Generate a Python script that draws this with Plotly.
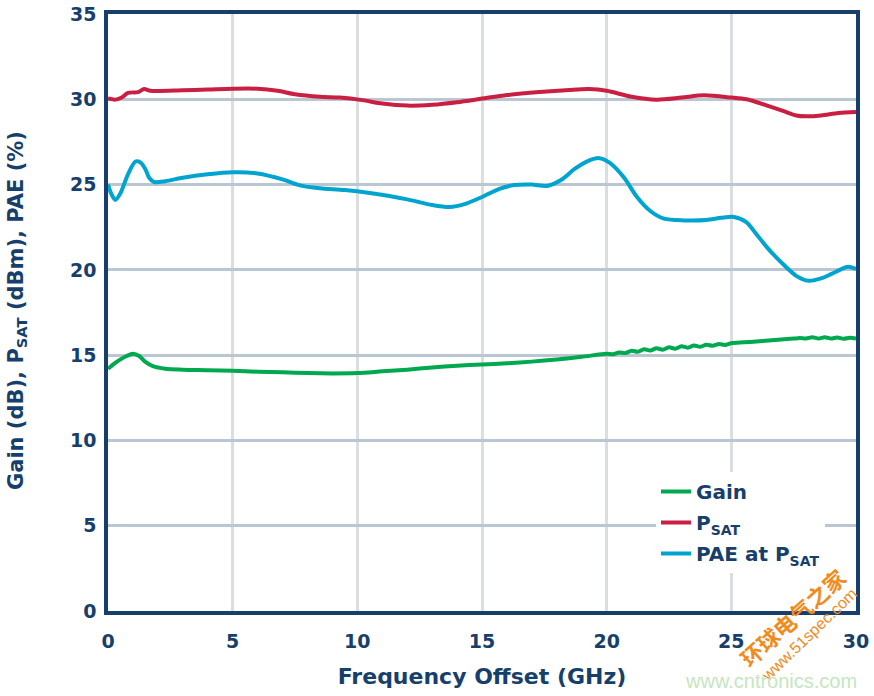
import plotly.graph_objects as go

# ---- data ----
gain_x = [0, 0.25, 0.5, 0.75, 1.0, 1.25, 1.5, 1.8, 2.3, 3, 4, 5, 6, 7, 8, 9, 10, 11, 12, 13, 14, 15, 16, 17, 18, 19, 20,
          20.25, 20.5, 20.75, 21.0, 21.25, 21.5, 21.75, 22.0, 22.25, 22.5, 22.75, 23.0, 23.25, 23.5, 23.75, 24.0,
          24.25, 24.5, 24.75, 25.0, 25.5, 26.0, 26.5, 27.0, 27.5, 27.75, 28.0, 28.25, 28.5, 28.75, 29.0, 29.25,
          29.5, 29.75, 30.0]
gain_y = [14.2, 14.5, 14.75, 14.95, 15.08, 14.95, 14.6, 14.35, 14.2, 14.15, 14.12, 14.08, 14.03, 14.0, 13.95, 13.93,
          13.95, 14.05, 14.15, 14.28, 14.38, 14.45, 14.52, 14.62, 14.75, 14.9, 15.08,
          15.05, 15.16, 15.12, 15.26, 15.2, 15.34, 15.27, 15.4, 15.32, 15.46, 15.38, 15.52, 15.44, 15.56, 15.49, 15.61,
          15.55, 15.65, 15.6, 15.7, 15.75, 15.8, 15.86, 15.92, 15.97, 16.0, 15.98, 16.05, 15.98, 16.05, 15.97, 16.04,
          15.96, 16.02, 15.98]

psat_x = [0, 0.3, 0.55, 0.8, 1.2, 1.45, 1.7, 3, 4, 5, 6, 6.8, 7.5, 8.5, 9.3, 10.2, 11, 12, 13, 14, 15, 16, 17.3,
          18.5, 19.3, 20, 21, 22, 23, 23.9, 25, 25.6, 26, 26.5, 27.1, 27.6, 28, 28.6, 29.3, 30]
psat_y = [30.05, 29.98, 30.1, 30.38, 30.42, 30.6, 30.5, 30.53, 30.57, 30.62, 30.62, 30.5, 30.3, 30.15, 30.1, 29.95,
          29.75, 29.63, 29.68, 29.83, 30.04, 30.25, 30.43, 30.55, 30.6, 30.5, 30.15, 29.98, 30.1, 30.23, 30.1, 30.0,
          29.84, 29.6, 29.3, 29.05, 29.0, 29.05, 29.2, 29.25]

pae_x = [0, 0.15, 0.3, 0.5, 0.8, 1.1, 1.3, 1.5, 1.65, 1.85, 2.3, 3, 4, 5, 6, 7, 7.7, 8.5, 9.5, 10.5, 12, 13, 13.7,
         14.3, 15, 15.7, 16.3, 17, 17.6, 18.2, 18.7, 19.2, 19.7, 20.1, 20.7, 21.2, 21.75, 22.3, 23.1, 24, 24.6, 25.1,
         25.6, 26.0, 26.5, 27.1, 27.6, 28.1, 28.6, 29.0, 29.5, 29.7, 30]
pae_y = [25.0, 24.4, 24.1, 24.5, 25.6, 26.35, 26.3, 25.9, 25.4, 25.15, 25.2, 25.4, 25.6, 25.72, 25.65, 25.3, 24.95,
         24.78, 24.68, 24.5, 24.13, 23.8, 23.68, 23.85, 24.27, 24.75, 24.97, 25.0, 24.92, 25.3, 25.9, 26.35, 26.55,
         26.3, 25.4, 24.3, 23.45, 23.0, 22.9, 22.92, 23.05, 23.1, 22.8, 22.1, 21.2, 20.3, 19.65, 19.36, 19.5, 19.75,
         20.1, 20.18, 20.05]

x_ticks = [0, 5, 10, 15, 20, 25, 30]
y_ticks = [0, 5, 10, 15, 20, 25, 30, 35]

NAVY = "#173f6b"
FONT = "DejaVu Sans, sans-serif"

L, R, T, B = 108, 18, 14, 85
W, H = 874, 696
PW, PH = W - L - R, H - T - B

fig = go.Figure()
fig.add_trace(go.Scatter(x=gain_x, y=gain_y, name="Gain", mode="lines", legendgroup="g1",
                         line=dict(color="#00a84f", width=4, shape="spline", smoothing=0.8)))
fig.add_trace(go.Scatter(x=psat_x, y=psat_y, name="P<sub>SAT</sub>", mode="lines", legendgroup="g2",
                         line=dict(color="#c91f43", width=4, shape="spline", smoothing=0.8)))
fig.add_trace(go.Scatter(x=pae_x, y=pae_y, name="PAE at P<sub>SAT</sub>", mode="lines", legendgroup="g3",
                         line=dict(color="#00a5cf", width=4, shape="spline", smoothing=0.8)))


def px2paper(px, py):
    return (px - L) / PW, (H - B - py) / PH


lx, ly = px2paper(656, 472)
fig.update_layout(
    width=W, height=H,
    margin=dict(l=L, r=R, t=T, b=B, autoexpand=False),
    paper_bgcolor="white", plot_bgcolor="white",
    font=dict(family=FONT, color=NAVY, size=19, weight="bold"),
    showlegend=True,
    legend=dict(x=lx, y=ly, xanchor="left", yanchor="top",
                bgcolor="white", borderwidth=0, traceorder="grouped",
                font=dict(size=20, color=NAVY, family=FONT, weight="bold"),
                itemwidth=30, tracegroupgap=2),
    xaxis=dict(range=[0, 30], tickvals=x_ticks, ticktext=[str(v) for v in x_ticks],
               showgrid=True, gridcolor="#dcdde0", gridwidth=3,
               showline=True, linecolor=NAVY, linewidth=3.5, mirror=True,
               ticks="", ticklabelstandoff=10, zeroline=False, automargin=False,
               tickfont=dict(size=19),
               title=dict(text="Frequency Offset (GHz)", standoff=19,
                          font=dict(size=22, color=NAVY, family=FONT, weight="bold"))),
    yaxis=dict(range=[0, 35], tickvals=y_ticks, ticktext=[str(v) for v in y_ticks],
               showgrid=True, gridcolor="#bac6d2", gridwidth=3,
               showline=True, linecolor=NAVY, linewidth=3.5, mirror=True,
               ticks="", ticklabelstandoff=4, zeroline=False, automargin=False,
               tickfont=dict(size=19)),
)

# y-axis title as a rotated annotation for exact placement
tx, ty = px2paper(17, 311)
fig.add_annotation(text="Gain (dB), P<sub>SAT</sub> (dBm), PAE (%)", x=tx, y=ty,
                   xref="paper", yref="paper", showarrow=False, textangle=-90,
                   xanchor="center", yanchor="middle",
                   font=dict(size=21, color=NAVY, family=FONT, weight="bold"))

# watermark texts seen in the reference image
wx, wy = px2paper(792, 617)
fig.add_annotation(text="环球电气之家", x=wx, y=wy, xref="paper", yref="paper",
                   showarrow=False, textangle=-42, xanchor="center", yanchor="middle",
                   font=dict(family="Noto Sans CJK SC", size=22, color="#f08c1e", weight="bold"))
wx, wy = px2paper(809, 634)
fig.add_annotation(text="www.51spec.com", x=wx, y=wy, xref="paper", yref="paper",
                   showarrow=False, textangle=-44, xanchor="center", yanchor="middle",
                   font=dict(family="Liberation Sans", size=16, color="#f08c1e", weight="normal"))
wx, wy = px2paper(771, 681)
fig.add_annotation(text="www.cntronics.com", x=wx, y=wy, xref="paper", yref="paper",
                   showarrow=False, xanchor="center", yanchor="middle",
                   font=dict(family="Liberation Sans", size=20, color="#c6e5c1", weight="normal"))

fig.write_html("out.html", config={"displayModeBar": False},
               post_script="document.body.style.margin='0px';")
